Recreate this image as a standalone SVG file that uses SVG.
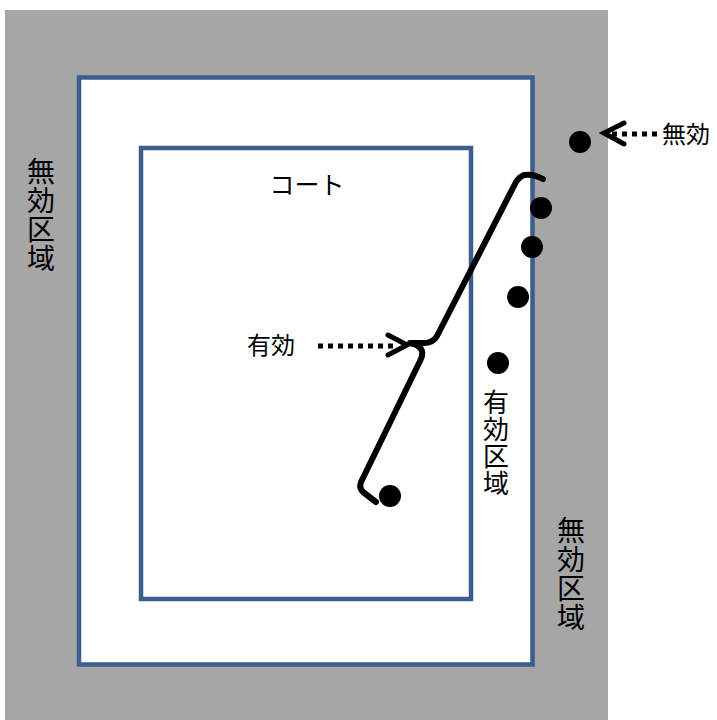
<svg xmlns="http://www.w3.org/2000/svg" width="717" height="720" viewBox="0 0 717 720">
<defs>
<style>
.zone{stroke:#3A5F8F;stroke-width:4.5}
.lbl{font-family:"Noto Sans CJK JP","Noto Sans",sans-serif;fill:#000}
.vert{writing-mode:vertical-rl;text-orientation:upright}
.dot{fill:#000}
.path{fill:none;stroke:#000;stroke-width:6;stroke-linecap:round;stroke-linejoin:round}
.dash{fill:none;stroke:#000;stroke-width:5;stroke-dasharray:5 5}
.chev{fill:none;stroke:#000;stroke-width:5;stroke-linecap:round;stroke-linejoin:miter}
</style>
</defs>
<rect x="0" y="0" width="717" height="720" fill="#fff"/>
<g id="outside-zone">
<rect x="5" y="10" width="603" height="710" fill="#A6A6A6"/>
<text class="lbl vert" x="41" y="157" font-size="28" letter-spacing="1">無効区域</text>
<text class="lbl vert" x="571" y="516" font-size="28" letter-spacing="1">無効区域</text>
</g>
<g id="valid-zone">
<rect x="79" y="77.5" width="453.5" height="587" fill="#fff" class="zone"/>
<text class="lbl vert" x="496" y="389" font-size="26" letter-spacing="1">有効区域</text>
</g>
<g id="court">
<rect x="141" y="148" width="330" height="451" fill="none" class="zone"/>
<text class="lbl" x="307" y="194" font-size="25" text-anchor="middle">コート</text>
</g>
<g id="balls">
<circle class="dot" cx="580" cy="142" r="11"/>
<circle class="dot" cx="541" cy="208" r="11"/>
<circle class="dot" cx="532" cy="247" r="11"/>
<circle class="dot" cx="518" cy="297" r="11"/>
<circle class="dot" cx="498" cy="363" r="11"/>
<circle class="dot" cx="390" cy="496" r="11"/>
</g>
<g id="connectors">
<path class="path" d="M543,179 C536,175 530,174 524,175 Q519,177 516,182 L437,336 Q433,343 424,343 L410,343 Q420,345 422,351 Q423,356 420,361 L362,480 Q358,487 363,492 L376,502"/>
<line class="dash" x1="318" y1="346" x2="396" y2="346"/>
<polyline class="chev" points="388,335 407,345 388,355"/>
<line class="dash" x1="612" y1="134" x2="657" y2="134"/>
<polyline class="chev" points="624,123 604,133 624,144"/>
</g>
<g id="labels">
<text class="lbl" x="271" y="354" font-size="24" text-anchor="middle">有効</text>
<text class="lbl" x="686" y="143" font-size="24" text-anchor="middle">無効</text>
</g>
</svg>
